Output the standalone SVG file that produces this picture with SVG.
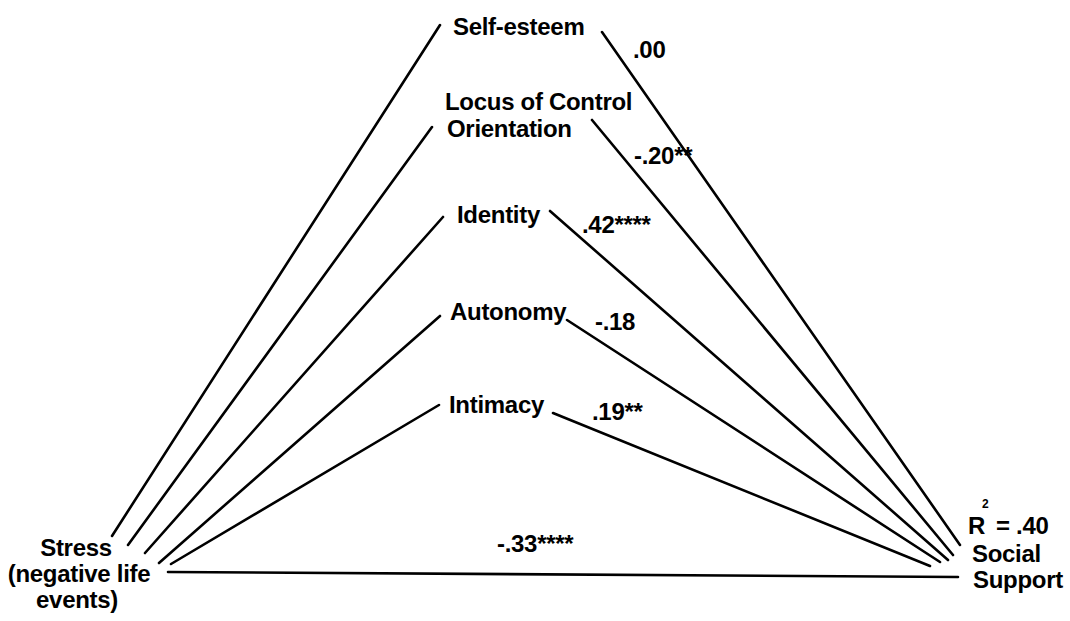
<svg xmlns="http://www.w3.org/2000/svg" width="1070" height="621" viewBox="0 0 1070 621">
<style>
text{font-family:"Liberation Sans",Arial,sans-serif;font-weight:bold;font-size:24px;fill:#000;letter-spacing:-0.3px}
.c line{stroke:#000;stroke-width:2.6;stroke-linecap:round;fill:none}
.sup{font-size:12px}
</style>
<rect width="1070" height="621" fill="#fff"/>
<g id="connectors" class="c">
  <line x1="112" y1="536" x2="440" y2="25"/>
  <line x1="128" y1="545" x2="432" y2="127"/>
  <line x1="145" y1="553" x2="443" y2="217"/>
  <line x1="159" y1="563" x2="440" y2="316"/>
  <line x1="171" y1="564" x2="439" y2="405"/>
  <line x1="168" y1="572" x2="958" y2="577"/>
  <line x1="602" y1="32" x2="960" y2="545"/>
  <line x1="592" y1="120" x2="953" y2="555"/>
  <line x1="550" y1="211" x2="948" y2="560"/>
  <line x1="567" y1="320" x2="940" y2="562"/>
  <line x1="553" y1="413" x2="930" y2="566"/>
</g>
<g id="edge-labels">
  <text x="633" y="58">.00</text>
  <text x="634" y="164">-.20**</text>
  <text x="582" y="233">.42****</text>
  <text x="595" y="330">-.18</text>
  <text x="592" y="420">.19**</text>
  <text x="497" y="552">-.33****</text>
</g>
<g id="stress"><text text-anchor="middle"><tspan x="76" y="556">Stress</tspan><tspan x="79" y="582">(negative life</tspan><tspan x="77" y="608">events)</tspan></text></g>
<g id="self-esteem"><text x="453" y="35">Self-esteem</text></g>
<g id="locus"><text><tspan x="445" y="110">Locus of Control</tspan><tspan x="447" y="137">Orientation</tspan></text></g>
<g id="identity"><text x="457" y="223">Identity</text></g>
<g id="autonomy"><text x="450" y="320">Autonomy</text></g>
<g id="intimacy"><text x="449" y="413">Intimacy</text></g>
<g id="social-support">
  <text x="968" y="534">R</text>
  <text class="sup" x="982" y="508">2</text>
  <text x="996" y="534">= .40</text>
  <text x="972" y="562">Social</text>
  <text x="973" y="588">Support</text>
</g>
</svg>
